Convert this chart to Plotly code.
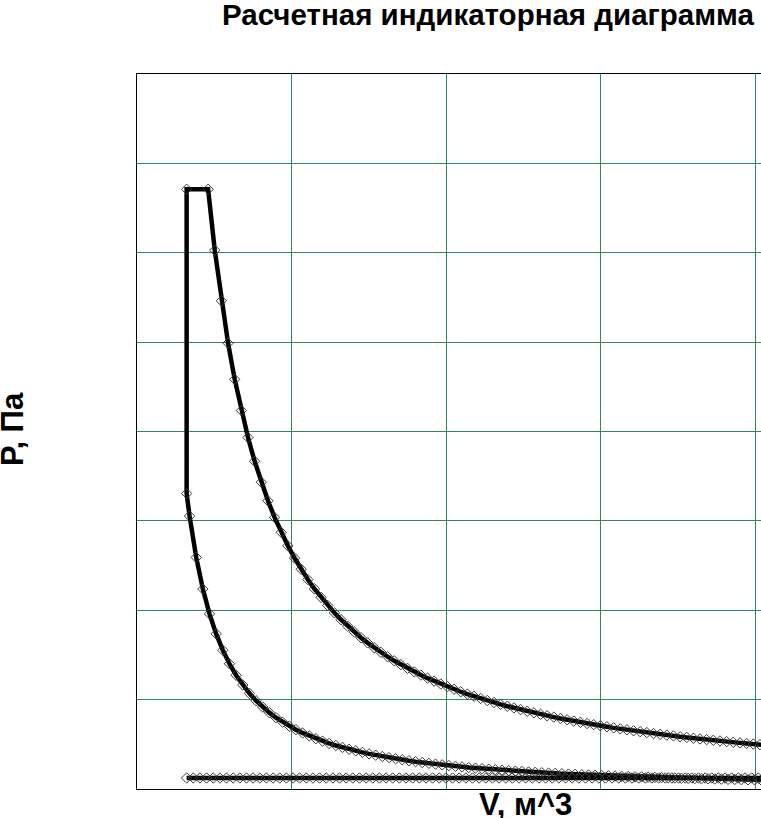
import plotly.graph_objects as go

# Compression line (V in grid units, P in grid units; no tick labels on the chart)
comp_V = [0.340, 0.383, 0.426, 0.469, 0.512, 0.555, 0.598, 0.641, 0.684, 0.727,
          0.770, 0.813, 0.856, 0.899, 0.942, 0.985, 1.028, 1.071, 1.114, 1.157,
          1.200, 1.243, 1.286, 1.329, 1.372, 1.415, 1.458, 1.501, 1.544, 1.587,
          1.630, 1.673, 1.716, 1.759, 1.802, 1.845, 1.888, 1.931, 1.974, 2.017,
          2.060, 2.103, 2.146, 2.189, 2.232, 2.275, 2.318, 2.361, 2.404, 2.447,
          2.490, 2.533, 2.576, 2.619, 2.662, 2.705, 2.748, 2.791, 2.834, 2.877,
          2.920, 2.963, 3.006, 3.049, 3.092, 3.135, 3.178, 3.221, 3.264, 3.307,
          3.350, 3.393, 3.436, 3.479, 3.522, 3.565, 3.608, 3.651, 3.694, 3.737,
          3.780, 3.823, 3.866, 3.909, 3.952, 3.995, 4.038]
comp_P = [3.054, 2.591, 2.237, 1.959, 1.736, 1.553, 1.401, 1.273, 1.164, 1.070,
          0.988, 0.917, 0.854, 0.798, 0.748, 0.704, 0.663, 0.627, 0.594, 0.563,
          0.536, 0.510, 0.487, 0.465, 0.445, 0.427, 0.410, 0.393, 0.378, 0.364,
          0.351, 0.339, 0.327, 0.316, 0.306, 0.296, 0.287, 0.278, 0.270, 0.262,
          0.254, 0.247, 0.240, 0.234, 0.228, 0.222, 0.216, 0.211, 0.205, 0.200,
          0.196, 0.191, 0.187, 0.182, 0.178, 0.175, 0.171, 0.167, 0.164, 0.160,
          0.157, 0.154, 0.151, 0.148, 0.145, 0.142, 0.140, 0.137, 0.135, 0.132,
          0.130, 0.128, 0.125, 0.123, 0.121, 0.119, 0.117, 0.115, 0.114, 0.112,
          0.110, 0.108, 0.107, 0.105, 0.103, 0.102, 0.100]

# Combustion: end of compression, vertical rise, constant-pressure segment
comb_V = [0.321, 0.321]
comb_P = [3.306, 6.710]

# Expansion line
exp_V = [0.460, 0.503, 0.546, 0.589, 0.632, 0.675, 0.718, 0.761, 0.804, 0.847,
         0.890, 0.933, 0.976, 1.019, 1.062, 1.105, 1.148, 1.191, 1.234, 1.277,
         1.320, 1.363, 1.406, 1.449, 1.492, 1.535, 1.578, 1.621, 1.664, 1.707,
         1.750, 1.793, 1.836, 1.879, 1.922, 1.965, 2.008, 2.051, 2.094, 2.137,
         2.180, 2.223, 2.266, 2.309, 2.352, 2.395, 2.438, 2.481, 2.524, 2.567,
         2.610, 2.653, 2.696, 2.739, 2.782, 2.825, 2.868, 2.911, 2.954, 2.997,
         3.040, 3.083, 3.126, 3.169, 3.212, 3.255, 3.298, 3.341, 3.384, 3.427,
         3.470, 3.513, 3.556, 3.599, 3.642, 3.685, 3.728, 3.771, 3.814, 3.857,
         3.900, 3.943, 3.986, 4.029, 4.072]
exp_P = [6.710, 6.028, 5.462, 4.988, 4.583, 4.235, 3.933, 3.667, 3.433, 3.225,
         3.039, 2.872, 2.721, 2.584, 2.459, 2.344, 2.239, 2.143, 2.053, 1.971,
         1.894, 1.822, 1.756, 1.693, 1.635, 1.580, 1.529, 1.480, 1.434, 1.391,
         1.350, 1.311, 1.275, 1.240, 1.207, 1.175, 1.145, 1.116, 1.088, 1.062,
         1.037, 1.013, 0.990, 0.968, 0.947, 0.926, 0.907, 0.888, 0.870, 0.852,
         0.836, 0.819, 0.804, 0.789, 0.774, 0.760, 0.746, 0.733, 0.720, 0.708,
         0.696, 0.684, 0.673, 0.662, 0.651, 0.641, 0.631, 0.621, 0.612, 0.603,
         0.594, 0.585, 0.577, 0.568, 0.560, 0.553, 0.545, 0.537, 0.530, 0.523,
         0.516, 0.509, 0.503, 0.496, 0.490]

# Exhaust / intake line
exh_V = [0.321, 0.364, 0.407, 0.450, 0.493, 0.536, 0.579, 0.622, 0.665, 0.708,
         0.751, 0.794, 0.837, 0.880, 0.923, 0.966, 1.009, 1.052, 1.095, 1.138,
         1.181, 1.224, 1.267, 1.310, 1.353, 1.396, 1.439, 1.482, 1.525, 1.568,
         1.611, 1.654, 1.697, 1.740, 1.783, 1.826, 1.869, 1.912, 1.955, 1.998,
         2.041, 2.084, 2.127, 2.170, 2.213, 2.256, 2.299, 2.342, 2.385, 2.428,
         2.471, 2.514, 2.557, 2.600, 2.643, 2.686, 2.729, 2.772, 2.815, 2.858,
         2.901, 2.944, 2.987, 3.030, 3.073, 3.116, 3.159, 3.202, 3.245, 3.288,
         3.331, 3.374, 3.417, 3.460, 3.503, 3.546, 3.589, 3.632, 3.675, 3.718,
         3.761, 3.804, 3.847, 3.890, 3.933, 3.976, 4.019, 4.062]
exh_P = [0.123, 0.123, 0.123, 0.123, 0.123, 0.123, 0.123, 0.123, 0.123, 0.123,
         0.123, 0.123, 0.123, 0.123, 0.123, 0.123, 0.123, 0.123, 0.123, 0.123,
         0.123, 0.123, 0.123, 0.123, 0.123, 0.123, 0.123, 0.123, 0.123, 0.123,
         0.123, 0.123, 0.123, 0.123, 0.123, 0.123, 0.123, 0.123, 0.123, 0.123,
         0.123, 0.123, 0.123, 0.123, 0.123, 0.123, 0.123, 0.123, 0.123, 0.123,
         0.123, 0.123, 0.123, 0.123, 0.123, 0.123, 0.123, 0.123, 0.123, 0.123,
         0.123, 0.123, 0.123, 0.123, 0.123, 0.123, 0.123, 0.123, 0.123, 0.123,
         0.123, 0.123, 0.123, 0.123, 0.123, 0.123, 0.123, 0.123, 0.123, 0.123,
         0.123, 0.123, 0.123, 0.123, 0.123, 0.123, 0.123, 0.123]

title_text = "Расчетная индикаторная диаграмма"
x_title = "V, м^3"
y_title = "Р, Па"

cycle_V = comp_V[::-1] + comb_V + exp_V
cycle_P = comp_P[::-1] + comb_P + exp_P

line_style = dict(color="black", width=4.5)
marker_style = dict(symbol="diamond-open", size=8, color="#3a3a3a",
                    line=dict(width=1, color="#3a3a3a"))

fig = go.Figure()
fig.add_trace(go.Scatter(x=cycle_V, y=cycle_P, mode="lines+markers",
                         line=line_style, marker=marker_style, showlegend=False))
fig.add_trace(go.Scatter(x=exh_V, y=exh_P, mode="lines+markers",
                         line=line_style, marker=marker_style, showlegend=False))

W, H = 761, 818
L, R, T, B = 137, 0, 74, 29
pw, ph = W - L - R, H - T - B
font_fam = "Liberation Sans, Arial, sans-serif"
grid_col = "#2e8b57"


def px(X):
    return (X - L) / pw


def py(Y):
    return (H - B - Y) / ph


fig.update_layout(
    width=W, height=H,
    margin=dict(l=L, r=R, t=T, b=B, autoexpand=False),
    paper_bgcolor="white", plot_bgcolor="white",
    font=dict(family=font_fam, color="black"),
    xaxis=dict(range=[0, pw / 154.6], dtick=1, tick0=0, showgrid=True,
               gridcolor=grid_col, gridwidth=1, zeroline=False,
               showticklabels=False, ticks="", showline=True,
               linecolor="black", linewidth=1, mirror=True),
    yaxis=dict(range=[0, 8], dtick=1, tick0=0, showgrid=True,
               gridcolor=grid_col, gridwidth=1, zeroline=False,
               showticklabels=False, ticks="", showline=True,
               linecolor="black", linewidth=1, mirror=False),
    annotations=[
        dict(text="<b>" + title_text + "</b>", xref="paper", yref="paper",
             x=px(220), y=py(15), xanchor="left", yanchor="middle",
             showarrow=False, font=dict(size=29.5, family=font_fam)),
        dict(text="<b>" + x_title + "</b>", xref="paper", yref="paper",
             x=px(525), y=py(804), xanchor="center", yanchor="middle",
             showarrow=False, font=dict(size=31, family=font_fam)),
        dict(text="<b>" + y_title + "</b>", xref="paper", yref="paper",
             x=px(13), y=py(429), xanchor="center", yanchor="middle",
             textangle=-90, showarrow=False, font=dict(size=31, family=font_fam)),
    ],
)

fig.write_html("out.html", config={"displayModeBar": False},
               post_script="document.body.style.margin='0';")
